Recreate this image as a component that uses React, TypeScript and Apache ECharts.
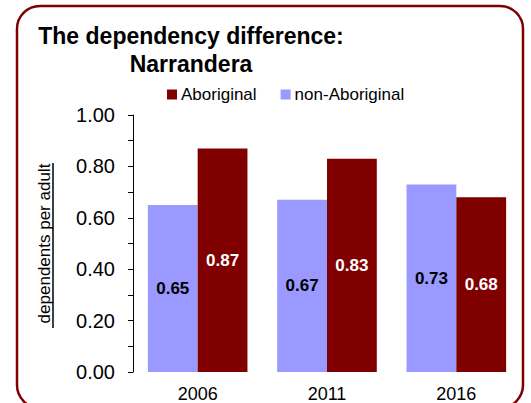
import React, { useEffect, useRef } from "react";
import * as echarts from "echarts";

const categories = ["2006", "2011", "2016"];
const nonAboriginal = [0.65, 0.67, 0.73];
const aboriginal = [0.87, 0.83, 0.68];
const legendOrder = ["Aboriginal", "non-Aboriginal"];

const FONT = "'Liberation Sans', Arial, Helvetica, sans-serif";
const RED = "#800000";
const PURPLE = "#9999FF";

export default function App() {
  const ref = useRef<HTMLDivElement>(null);
  useEffect(() => {
    document.body.style.margin = "0";
    const chart = echarts.init(ref.current!, null, { renderer: "svg" });
    chart.setOption({
      animation: false,
      backgroundColor: "#ffffff",
      textStyle: { fontFamily: FONT },
      title: {
        text: "The dependency difference:\nNarrandera",
        left: 191,
        top: 22,
        padding: 0,
        textAlign: "center",
        textStyle: {
          fontFamily: FONT,
          fontSize: 23,
          fontWeight: "bold",
          color: "#000",
          lineHeight: 28,
        },
      },
      legend: {
        data: legendOrder,
        left: 167,
        top: 86,
        padding: 0,
        itemWidth: 10,
        itemHeight: 10,
        itemGap: 24,
        itemStyle: { borderWidth: 0 },
        icon: "rect",
        textStyle: { fontFamily: FONT, fontSize: 17, color: "#000", padding: [0, 0, 0, -1] },
      },
      grid: { left: 133, top: 115, right: 10, bottom: 28, containLabel: false },
      xAxis: {
        type: "category",
        data: categories,
        axisLine: { show: false },
        axisTick: { show: false },
        axisLabel: { fontFamily: FONT, fontSize: 18, color: "#000", margin: 13 },
      },
      yAxis: {
        type: "value",
        min: 0,
        max: 1,
        interval: 0.2,
        name: "dependents per adult",
        nameLocation: "middle",
        nameRotate: 90,
        nameGap: 80,
        nameTextStyle: { fontFamily: FONT, fontSize: 17, color: "#000" },
        axisLine: { show: true, lineStyle: { color: "#000", width: 1 } },
        axisTick: { show: true, length: 5, lineStyle: { color: "#000" } },
        minorTick: { show: true, splitNumber: 2, length: 5, lineStyle: { color: "#000" } },
        splitLine: { show: false },
        axisLabel: {
          fontFamily: FONT,
          fontSize: 20,
          color: "#000",
          margin: 18,
          formatter: (v: number) => v.toFixed(2),
        },
      },
      series: [
        {
          name: "non-Aboriginal",
          type: "bar",
          data: nonAboriginal,
          barGap: "0%",
          barCategoryGap: "23%",
          itemStyle: { color: PURPLE },
          label: {
            show: true,
            position: "inside",
            fontFamily: FONT,
            fontSize: 17,
            fontWeight: "bold",
            color: "#000",
            formatter: (p: any) => Number(p.value).toFixed(2),
          },
        },
        {
          name: "Aboriginal",
          type: "bar",
          data: aboriginal,
          itemStyle: { color: RED },
          label: {
            show: true,
            position: "inside",
            fontFamily: FONT,
            fontSize: 17,
            fontWeight: "bold",
            color: "#fff",
            formatter: (p: any) => Number(p.value).toFixed(2),
          },
        },
      ],
      graphic: [
        {
          type: "rect",
          shape: { x: 17, y: 6, width: 506, height: 402, r: 23 },
          style: { fill: "none", stroke: RED, lineWidth: 2.5 },
          silent: true,
          z: 100,
        },
        {
          type: "line",
          shape: { x1: 53, y1: 163, x2: 53, y2: 328 },
          style: { stroke: "#000", lineWidth: 1.5 },
          silent: true,
        },
      ],
    });
    return () => chart.dispose();
  }, []);
  return (
    <div
      ref={ref}
      style={{ position: "absolute", left: 0, top: 0, width: 531, height: 403 }}
    />
  );
}
